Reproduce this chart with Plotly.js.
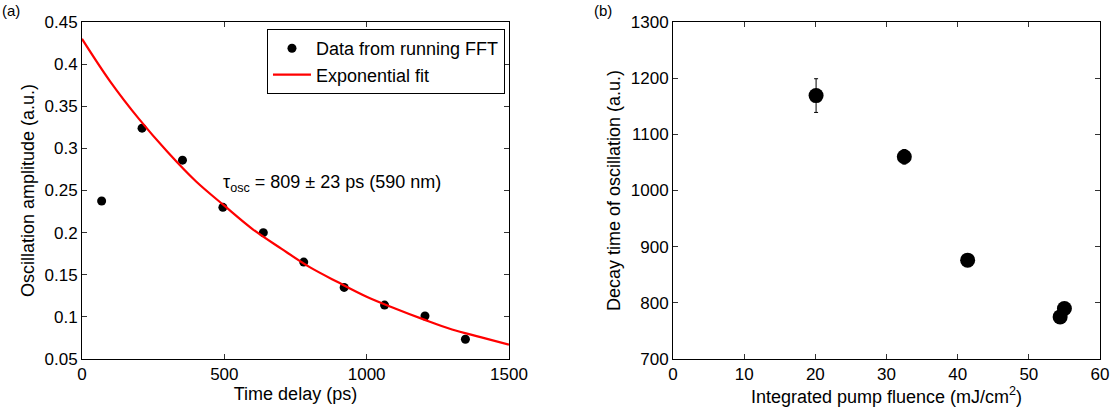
<!DOCTYPE html>
<html>
<head>
<meta charset="utf-8">
<script src="https://cdn.plot.ly/plotly-3.0.1.min.js"></script>
<style>html,body{margin:0;padding:0;background:#fff;}#chart{width:1114px;height:416px;}</style>
</head>
<body>
<div id="chart"></div>
<script>
// Panel (a): oscillation amplitude vs time delay
const timeDelay = [69, 211, 353, 495, 637, 779, 921, 1063, 1205, 1347];
const amplitude = [0.2375, 0.324, 0.286, 0.230, 0.200, 0.165, 0.135, 0.114, 0.101, 0.0735];
// Exponential fit curve
const fitTime = [0, 100, 200, 300, 400, 500, 600, 700, 800, 900, 1000, 1100, 1200, 1300, 1400, 1500];
const fitAmp = [0.430, 0.379, 0.335, 0.296, 0.261, 0.232, 0.204, 0.181, 0.159, 0.141, 0.124, 0.110, 0.097, 0.085, 0.076, 0.067];

// Panel (b): decay time vs fluence
const fluence = [20.1, 32.5, 41.4, 54.4, 55.0];
const decayTime = [1169, 1060, 876, 775, 790];
const decayErr = [30, 13, 4, 4, 4];

const FONT = "Liberation Sans, Arial, Helvetica, sans-serif";

const traces = [
  {x: timeDelay, y: amplitude, type: 'scatter', mode: 'markers', name: 'Data from running FFT',
   marker: {color: 'black', size: 9}, xaxis: 'x', yaxis: 'y'},
  {x: fitTime, y: fitAmp, type: 'scatter', mode: 'lines', name: 'Exponential fit',
   line: {color: '#ff0000', width: 2.2, shape: 'spline'}, xaxis: 'x', yaxis: 'y'},
  {x: fluence, y: decayTime, type: 'scatter', mode: 'markers', showlegend: false,
   marker: {color: 'black', size: 15},
   error_y: {type: 'data', array: decayErr, visible: true, color: 'black', thickness: 1, width: 2},
   xaxis: 'x2', yaxis: 'y2'}
];

const axBase = {
  showline: true, linecolor: 'black', linewidth: 1, mirror: 'ticks',
  ticks: 'inside', ticklen: 5, tickcolor: '#333', tickwidth: 1,
  showgrid: false, zeroline: false,
  tickfont: {family: FONT, size: 17, color: 'black'}
};

const layout = {
  width: 1114, height: 416,
  margin: {l: 82, r: 14, t: 22, b: 57},
  paper_bgcolor: 'white', plot_bgcolor: 'white',
  font: {family: FONT, size: 17, color: 'black'},
  showlegend: true,
  legend: {x: 0.4155, y: 0.979, xanchor: 'right', yanchor: 'top',
    bgcolor: 'white', bordercolor: 'black', borderwidth: 1, itemwidth: 38,
    font: {family: FONT, size: 18, color: 'black'}, tracegroupgap: 0},
  xaxis: Object.assign({}, axBase, {domain: [0, 0.4194], range: [0, 1500], tickvals: [0, 500, 1000, 1500],
    title: {text: 'Time delay (ps)', font: {family: FONT, size: 18}, standoff: 3}, anchor: 'y'}),
  yaxis: Object.assign({}, axBase, {domain: [0, 1], range: [0.05, 0.45], dtick: 0.05, tick0: 0.05,
    title: {text: 'Oscillation amplitude (a.u.)', font: {family: FONT, size: 18}, standoff: 5}, anchor: 'x'}),
  xaxis2: Object.assign({}, axBase, {domain: [0.5806, 1], range: [0, 60], dtick: 10,
    title: {text: 'Integrated pump fluence (mJ/cm<sup>2</sup>)', font: {family: FONT, size: 18}, standoff: 3}, anchor: 'y2'}),
  yaxis2: Object.assign({}, axBase, {domain: [0, 1], range: [700, 1300], dtick: 100,
    title: {text: 'Decay time of oscillation (a.u.)', font: {family: FONT, size: 18}, standoff: 5}, anchor: 'x2'}),
  annotations: [
    {text: '(a)', xref: 'paper', yref: 'paper', x: -0.0806, y: 1.033, xanchor: 'left', yanchor: 'middle',
     showarrow: false, font: {family: FONT, size: 15}},
    {text: '(b)', xref: 'paper', yref: 'paper', x: 0.501, y: 1.033, xanchor: 'left', yanchor: 'middle',
     showarrow: false, font: {family: FONT, size: 15}},
    {text: 'τ<sub>osc</sub> = 809 ± 23 ps (590 nm)', xref: 'x', yref: 'y', x: 487, y: 0.258,
     xanchor: 'left', yanchor: 'middle', showarrow: false, font: {family: FONT, size: 18}}
  ]
};

Plotly.newPlot('chart', traces, layout, {staticPlot: true, displayModeBar: false});
</script>
</body>
</html>
